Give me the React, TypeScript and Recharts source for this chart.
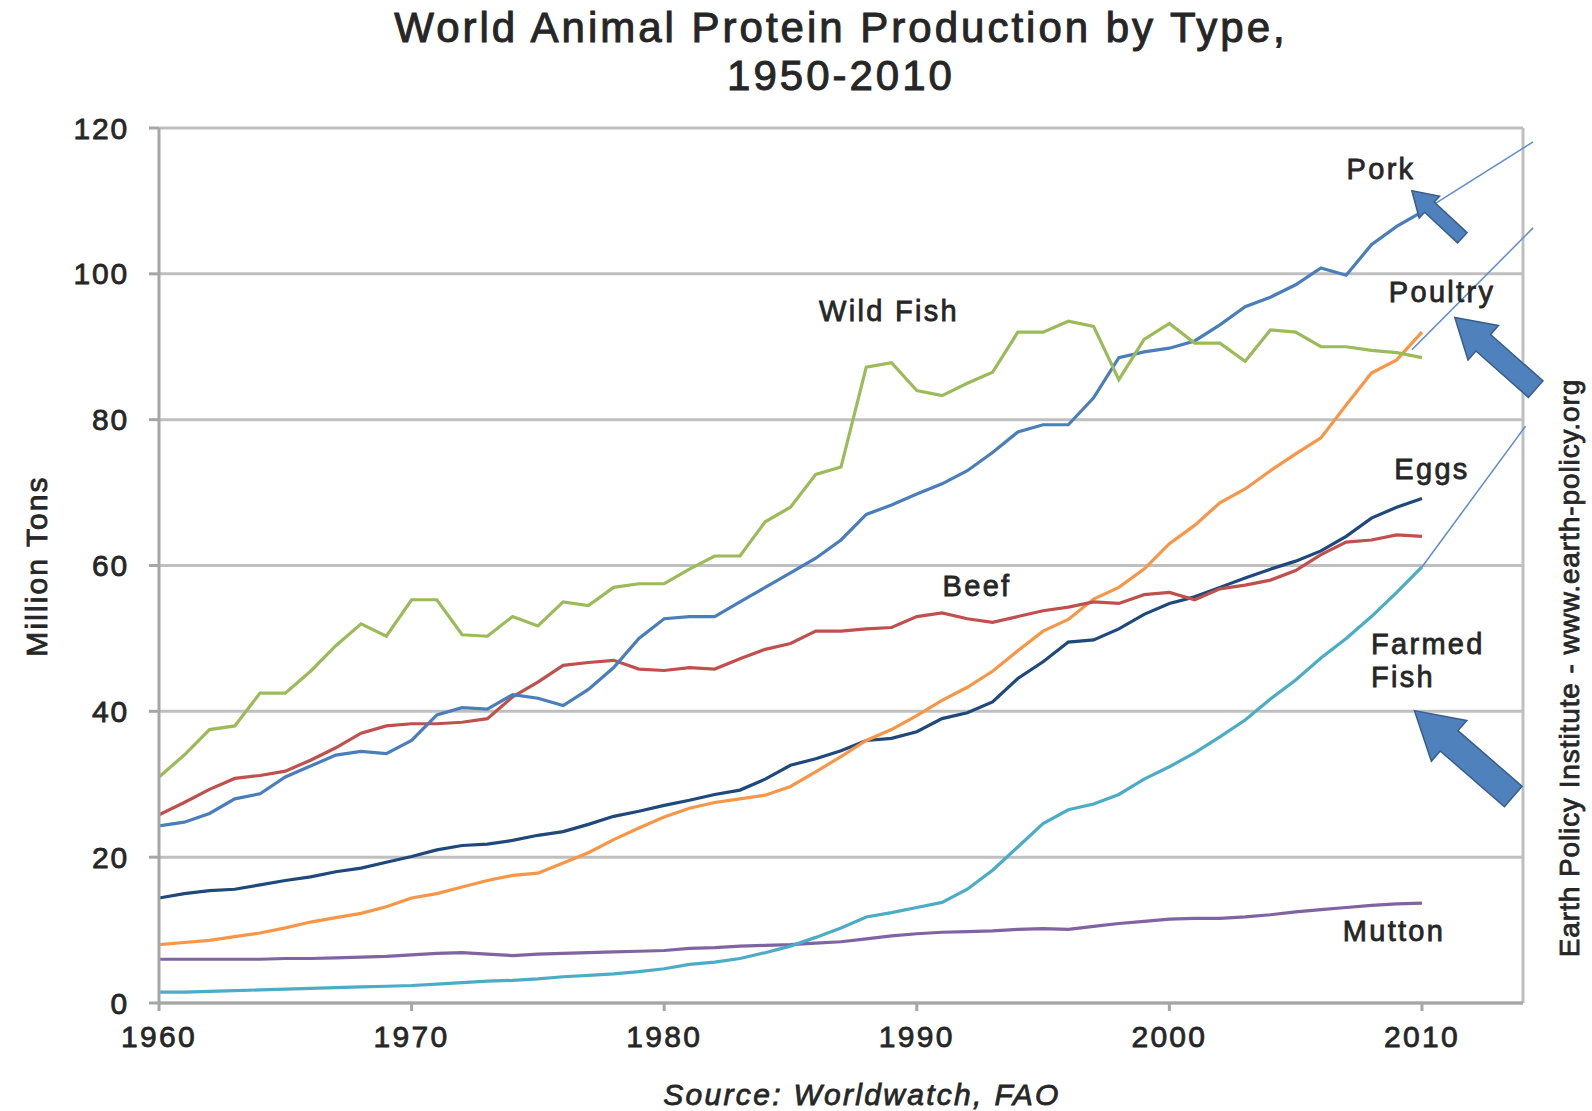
import React from "react";
import {
  LineChart,
  Line,
  XAxis,
  YAxis,
  CartesianGrid,
  ReferenceLine,
  ReferenceDot,
} from "recharts";

// years on the x axis
const years = [
  1960, 1961, 1962, 1963, 1964, 1965, 1966, 1967, 1968, 1969,
  1970, 1971, 1972, 1973, 1974, 1975, 1976, 1977, 1978, 1979,
  1980, 1981, 1982, 1983, 1984, 1985, 1986, 1987, 1988, 1989,
  1990, 1991, 1992, 1993, 1994, 1995, 1996, 1997, 1998, 1999,
  2000, 2001, 2002, 2003, 2004, 2005, 2006, 2007, 2008, 2009, 2010,
];

// million tons
const wildFish = [
  31, 34, 37.5, 38, 42.5, 42.5, 45.5, 49, 52, 50.3,
  55.3, 55.3, 50.5, 50.3, 53, 51.7, 55, 54.5, 57, 57.5,
  57.5, 59.5, 61.3, 61.3, 66, 68, 72.5, 73.5, 87.2, 87.8,
  84, 83.3, 85, 86.5, 92, 92, 93.5, 92.8, 85.5, 91,
  93.2, 90.5, 90.5, 88, 92.3, 92, 90, 90, 89.5, 89.2, 88.5,
];
const pork = [
  24.3, 24.8, 26, 28, 28.7, 31, 32.5, 34, 34.5, 34.2,
  36, 39.5, 40.5, 40.3, 42.3, 41.8, 40.8, 43, 46, 50,
  52.7, 53, 53, 55, 57, 59, 61, 63.5, 67, 68.3,
  69.8, 71.2, 73, 75.5, 78.3, 79.3, 79.3, 83, 88.5, 89.3,
  89.8, 90.8, 93, 95.5, 96.8, 98.5, 100.8, 99.8, 104, 106.5, 108.5,
];
const beef = [
  25.8, 27.5, 29.3, 30.8, 31.2, 31.8, 33.3, 35, 37, 38,
  38.3, 38.3, 38.5, 39, 42, 44, 46.3, 46.7, 47, 45.8,
  45.6, 46, 45.8, 47.2, 48.5, 49.3, 51, 51, 51.3, 51.5,
  53, 53.5, 52.7, 52.2, 53, 53.8, 54.3, 55, 54.8, 56,
  56.3, 55.3, 56.8, 57.3, 58, 59.3, 61.5, 63.2, 63.5, 64.2, 64,
];
const eggs = [
  14.4, 15, 15.4, 15.6, 16.2, 16.8, 17.3, 18, 18.5, 19.3,
  20.1, 21, 21.6, 21.8, 22.3, 23, 23.5, 24.5, 25.6, 26.3,
  27.1, 27.8, 28.6, 29.2, 30.7, 32.6, 33.5, 34.6, 36, 36.3,
  37.2, 39, 39.8, 41.3, 44.5, 46.8, 49.5, 49.8, 51.3, 53.3,
  54.8, 55.7, 57, 58.3, 59.5, 60.6, 62, 64, 66.5, 68, 69.2,
];
const poultry = [
  8, 8.3, 8.6, 9.1, 9.6, 10.3, 11.1, 11.7, 12.3, 13.2,
  14.4, 15, 15.9, 16.8, 17.5, 17.8, 19.2, 20.6, 22.4, 24,
  25.5, 26.7, 27.5, 28, 28.5, 29.7, 31.7, 33.8, 36, 37.5,
  39.4, 41.5, 43.3, 45.5, 48.3, 51, 52.6, 55.4, 57, 59.5,
  63, 65.5, 68.6, 70.5, 73, 75.3, 77.5, 82, 86.4, 88.2, 92,
];
const farmedFish = [
  1.5, 1.5, 1.6, 1.7, 1.8, 1.9, 2.0, 2.1, 2.2, 2.3,
  2.4, 2.6, 2.8, 3.0, 3.1, 3.3, 3.6, 3.8, 4.0, 4.3,
  4.7, 5.3, 5.6, 6.1, 6.9, 7.8, 9, 10.3, 11.8, 12.4,
  13.1, 13.8, 15.6, 18.2, 21.4, 24.6, 26.5, 27.3, 28.6, 30.7,
  32.4, 34.3, 36.5, 38.8, 41.7, 44.3, 47.3, 50, 53, 56.3, 59.8,
];
const mutton = [
  6, 6, 6, 6, 6, 6.1, 6.1, 6.2, 6.3, 6.4,
  6.6, 6.8, 6.9, 6.7, 6.5, 6.7, 6.8, 6.9, 7.0, 7.1,
  7.2, 7.5, 7.6, 7.8, 7.9, 8, 8.2, 8.4, 8.8, 9.2,
  9.5, 9.7, 9.8, 9.9, 10.1, 10.2, 10.1, 10.5, 10.9, 11.2,
  11.5, 11.6, 11.6, 11.8, 12.1, 12.5, 12.8, 13.1, 13.4, 13.6, 13.7,
];

const xTicks = [1960, 1970, 1980, 1990, 2000, 2010];
const yTicks = [0, 20, 40, 60, 80, 100, 120];

// thin projection lines past 2010
const projections = [
  { from: [2010, 108.5], to: [2014.4, 118.1] },
  { from: [2009.6, 89.6], to: [2014.4, 106.3] },
  { from: [2010, 59.8], to: [2014.1, 79.1] },
];

// block arrows: tip in data coords, size in px
const arrows = [
  { x: 2009.6, y: 111.4, len: 69, shaft: 14, head: 30, headLen: 24, angle: 43 },
  { x: 2011.3, y: 94.0, len: 108, shaft: 22, head: 46, headLen: 38, angle: 41.5 },
  { x: 2009.7, y: 40.1, len: 131, shaft: 27, head: 54, headLen: 46, angle: 41 },
];

const data = years.map((year, i) => ({
  year,
  wildFish: wildFish[i],
  pork: pork[i],
  beef: beef[i],
  eggs: eggs[i],
  poultry: poultry[i],
  farmedFish: farmedFish[i],
  mutton: mutton[i],
}));

const FONT = '"Liberation Sans", Arial, sans-serif';
const TEXT = "#262626";
const GRID = "#BFBFBF";

const arrowShape =
  (a: { len: number; shaft: number; head: number; headLen: number; angle: number }) =>
  (props: any) => {
    const { cx, cy } = props;
    const pts = [
      [0, 0],
      [-a.headLen, -a.head / 2],
      [-a.headLen, -a.shaft / 2],
      [-a.len, -a.shaft / 2],
      [-a.len, a.shaft / 2],
      [-a.headLen, a.shaft / 2],
      [-a.headLen, a.head / 2],
    ];
    return (
      <polygon
        points={pts.map((p) => p.join(",")).join(" ")}
        transform={`translate(${cx},${cy}) rotate(${180 + a.angle})`}
        fill="#4F81BD"
        stroke="#385D8A"
        strokeWidth={1.5}
      />
    );
  };

function Note({ x, y, children, style }: any) {
  return (
    <div
      style={{
        position: "absolute",
        left: x,
        top: y,
        transform: "translate(-50%, -50%)",
        fontFamily: FONT,
        fontSize: 29,
        letterSpacing: 2.3,
        color: TEXT,
        WebkitTextStroke: "0.8px " + TEXT,
        whiteSpace: "nowrap",
        lineHeight: 1.1,
        ...style,
      }}
    >
      {children}
    </div>
  );
}

const tickStyle = {
  fill: TEXT,
  fontSize: 30,
  fontFamily: FONT,
  stroke: TEXT,
  strokeWidth: 0.8,
};

export default function App() {
  return (
    <div style={{ position: "relative", width: 1592, height: 1111, background: "#fff" }}>
      <style>{"body{margin:0;background:#fff}"}</style>

      <LineChart
        width={1592}
        height={1111}
        data={data}
        margin={{ top: 128, right: 69, bottom: 48, left: 59 }}
      >
        <CartesianGrid vertical={false} stroke={GRID} strokeWidth={3} />
        <XAxis
          dataKey="year"
          type="number"
          domain={[1960, 2014]}
          ticks={xTicks}
          allowDataOverflow
          height={60}
          tickSize={8}
          tickMargin={15}
          stroke="#A6A6A6"
          strokeWidth={3}
          tick={{ ...tickStyle, letterSpacing: 2.3 }}
        />
        <YAxis
          type="number"
          domain={[0, 120]}
          ticks={yTicks}
          width={100}
          tickSize={10}
          tickMargin={20}
          stroke="#A6A6A6"
          strokeWidth={3}
          tick={{ ...tickStyle, letterSpacing: 1.8 }}
        />
        <ReferenceLine x={2014} stroke={GRID} strokeWidth={3} />

        <Line dataKey="mutton" stroke="#8064A2" strokeWidth={3.2} dot={false} isAnimationActive={false} />
        <Line dataKey="farmedFish" stroke="#4BACC6" strokeWidth={3.2} dot={false} isAnimationActive={false} />
        <Line dataKey="eggs" stroke="#1F497D" strokeWidth={3.2} dot={false} isAnimationActive={false} />
        <Line dataKey="poultry" stroke="#F79646" strokeWidth={3.2} dot={false} isAnimationActive={false} />
        <Line dataKey="beef" stroke="#C0504D" strokeWidth={3.2} dot={false} isAnimationActive={false} />
        <Line dataKey="pork" stroke="#4A7EBB" strokeWidth={3.2} dot={false} isAnimationActive={false} />
        <Line dataKey="wildFish" stroke="#9BBB59" strokeWidth={3.2} dot={false} isAnimationActive={false} />

        {projections.map((p, i) => (
          <ReferenceLine
            key={"p" + i}
            segment={[
              { x: p.from[0], y: p.from[1] },
              { x: p.to[0], y: p.to[1] },
            ]}
            stroke="#5B8BD0"
            strokeWidth={1.5}
            ifOverflow="visible"
          />
        ))}
        {arrows.map((a, i) => (
          <ReferenceDot key={"a" + i} x={a.x} y={a.y} r={1} ifOverflow="visible" shape={arrowShape(a)} />
        ))}
      </LineChart>

      <Note x={841} y={28} style={{ fontSize: 42, letterSpacing: 3, WebkitTextStroke: "1px " + TEXT }}>
        World Animal Protein Production by Type,
      </Note>
      <Note x={841} y={76} style={{ fontSize: 42, letterSpacing: 3, WebkitTextStroke: "1px " + TEXT }}>
        1950-2010
      </Note>
      <Note x={36} y={566} style={{ fontSize: 30, letterSpacing: 2.1, transform: "translate(-50%, -50%) rotate(-90deg)" }}>
        Million Tons
      </Note>
      <Note x={1570} y={668} style={{ fontSize: 28, letterSpacing: 0.9, transform: "translate(-50%, -50%) rotate(-90deg)" }}>
        Earth Policy Institute - www.earth-policy.org
      </Note>
      <Note x={862} y={1094} style={{ fontSize: 30, letterSpacing: 2.3, fontStyle: "italic" }}>
        Source: Worldwatch, FAO
      </Note>

      <Note x={1381} y={170}>Pork</Note>
      <Note x={889} y={312}>Wild Fish</Note>
      <Note x={1442} y={293}>Poultry</Note>
      <Note x={1432} y={470}>Eggs</Note>
      <Note x={977} y={587}>Beef</Note>
      <div
        style={{
          position: "absolute",
          left: 1371,
          top: 628,
          fontFamily: FONT,
          fontSize: 29,
          letterSpacing: 2.3,
          color: TEXT,
          WebkitTextStroke: "0.8px " + TEXT,
          lineHeight: "33px",
        }}
      >
        Farmed
        <br />
        Fish
      </div>
      <Note x={1394} y={932}>Mutton</Note>
    </div>
  );
}
